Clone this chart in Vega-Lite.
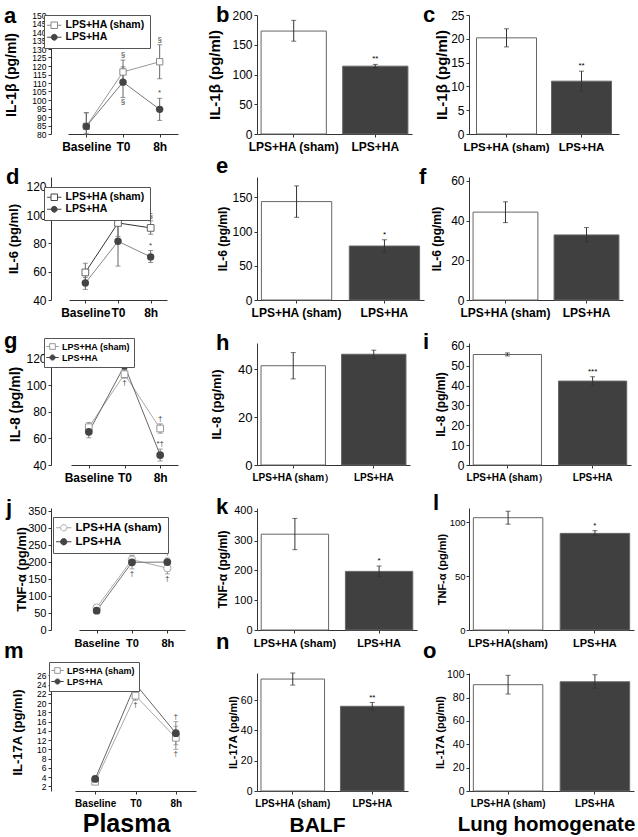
{
"$schema":"https://vega.github.io/schema/vega-lite/v6.json",
"padding":{"left":3,"top":3,"right":0,"bottom":0},
"background":"white",
"bounds":"flush",
"columns":3,
"align":"each",
"spacing":{"row":43,"column":45},
"resolve":{"scale":{"fill":"independent","shape":"independent","stroke":"independent"},"legend":{"fill":"independent","shape":"independent","stroke":"independent"}},
"config":{
 "font":"Liberation Sans",
 "view":{"stroke":null},
 "axis":{"grid":false,"domainColor":"#333333","tickColor":"#333333","tickSize":3,"labelColor":"#000000","titleColor":"#000000","labelFont":"Liberation Sans","titleFont":"Liberation Sans","titleFontWeight":"bold","labelPadding":2,"labelOverlap":false,"labelFlush":false},
 "axisX":{"labelAngle":0,"labelFontWeight":"bold","labelPadding":4},
 "title":{"font":"Liberation Sans","fontWeight":"bold","fontSize":22,"anchor":"start","frame":"group","offset":0,"baseline":"alphabetic","color":"#000000"},
 "text":{"font":"Liberation Sans"}
},
"concat":[
 {"title":{"text":"a","dx":-47,"dy":20.5},"width":150,"height":119,
  "data":{"values":[
   {"t":"Baseline","s":"LPS+HA (sham)","v":84.5,"lo":80,"hi":92.5,"up":"","dn":""},
   {"t":"T0","s":"LPS+HA (sham)","v":116.5,"lo":110,"hi":123.5,"up":"§","dn":""},
   {"t":"8h","s":"LPS+HA (sham)","v":122.5,"lo":112.5,"hi":132.5,"up":"§","dn":""},
   {"t":"Baseline","s":"LPS+HA","v":84.5,"lo":80,"hi":92.5,"up":"","dn":""},
   {"t":"T0","s":"LPS+HA","v":110.5,"lo":101.5,"hi":119.5,"up":"","dn":"§"},
   {"t":"8h","s":"LPS+HA","v":94.5,"lo":88,"hi":101,"up":"*","dn":""}]},
  "encoding":{"x":{"field":"t","type":"ordinal","sort":["Baseline","T0","8h"],"scale":{"type":"point","range":[17,127]},"axis":{"title":null,"labelFontSize":12}}},
  "layer":[
   {"transform":[{"filter":"datum.s == 'LPS+HA (sham)'"}],"mark":{"type":"line","color":"#999999","strokeWidth":1},"encoding":{"y":{"field":"v","type":"quantitative","title":"IL-1β (pg/ml)","scale":{"domain":[80,150],"nice":false,"zero":false},"axis":{"values":[80,85,90,95,100,105,110,115,120,125,130,135,140,145,150],"format":"d","tickCount":50,"labelOverlap":false,"titleX":-33,"titleFontSize":14,"labelFontSize":8.5}}}},
   {"transform":[{"filter":"datum.s == 'LPS+HA'"}],"mark":{"type":"line","color":"#777777","strokeWidth":1},"encoding":{"y":{"field":"v","type":"quantitative","title":"IL-1β (pg/ml)"}}},
   {"mark":{"type":"errorbar","ticks":{"size":5},"color":"#666666"},"encoding":{"y":{"field":"lo","type":"quantitative","title":"IL-1β (pg/ml)"},"y2":{"field":"hi"}}},
   {"transform":[{"filter":"datum.s == 'LPS+HA (sham)'"}],"mark":{"type":"point","shape":"square","filled":true,"fill":"#ffffff","stroke":"#888888","strokeWidth":1,"size":40,"opacity":1},"encoding":{"y":{"field":"v","type":"quantitative","title":"IL-1β (pg/ml)"}}},
   {"transform":[{"filter":"datum.s == 'LPS+HA'"}],"mark":{"type":"point","shape":"circle","filled":true,"color":"#444444","size":55,"opacity":1},"encoding":{"y":{"field":"v","type":"quantitative","title":"IL-1β (pg/ml)"}}},
   {"mark":{"type":"text","baseline":"bottom","dy":-1,"fontSize":8,"color":"#444444"},"encoding":{"y":{"field":"hi","type":"quantitative","title":"IL-1β (pg/ml)"},"text":{"field":"up"}}},
   {"mark":{"type":"text","baseline":"top","dy":1,"fontSize":8,"color":"#444444"},"encoding":{"y":{"field":"lo","type":"quantitative","title":"IL-1β (pg/ml)"},"text":{"field":"dn"}}},
   {"transform":[{"filter":"datum.v < -9999"}],"mark":{"type":"point","filled":true,"opacity":1,"strokeWidth":1},"encoding":{"y":{"field":"v","type":"quantitative","title":"IL-1β (pg/ml)"},
     "shape":{"field":"s","type":"nominal","scale":{"domain":["LPS+HA (sham)","LPS+HA"],"range":["M-2.2,0H-1M1,0H2.2M-1,-1H1V1H-1Z","M-2.2,0H-0.9M0.9,0H2.2M0.9,0A0.9,0.9,0,1,1,-0.9,0A0.9,0.9,0,1,1,0.9,0Z"]},"legend":{"title":null,"orient":"none","legendX":-7,"legendY":0,"fillColor":"#ffffff","strokeColor":"#555555","padding":5,"rowPadding":1,"labelFont":"Liberation Sans","labelFontSize":10.5,"labelFontWeight":"bold","labelColor":"#000000","symbolSize":42,"symbolStrokeWidth":1,"labelOffset":6}},
     "fill":{"field":"s","type":"nominal","scale":{"domain":["LPS+HA (sham)","LPS+HA"],"range":["#ffffff","#444444"]},"legend":{"title":null,"orient":"none","legendX":-7,"legendY":0,"fillColor":"#ffffff","strokeColor":"#555555","padding":5,"rowPadding":1,"labelFont":"Liberation Sans","labelFontSize":10.5,"labelFontWeight":"bold","labelColor":"#000000","symbolSize":42,"symbolStrokeWidth":1,"labelOffset":6}},
     "stroke":{"field":"s","type":"nominal","scale":{"domain":["LPS+HA (sham)","LPS+HA"],"range":["#888888","#444444"]},"legend":{"title":null,"orient":"none","legendX":-7,"legendY":0,"fillColor":"#ffffff","strokeColor":"#555555","padding":5,"rowPadding":1,"labelFont":"Liberation Sans","labelFontSize":10.5,"labelFontWeight":"bold","labelColor":"#000000","symbolSize":42,"symbolStrokeWidth":1,"labelOffset":6}}}}
  ]},
 {"title":{"text":"b","dx":-41,"dy":21.5},"width":155,"height":119,
  "data":{"values":[{"g":"LPS+HA (sham)","v":173,"lo":156,"hi":191,"sig":""},{"g":"LPS+HA","v":114,"lo":111,"hi":117,"sig":"**"}]},
  "encoding":{"x":{"field":"g","type":"nominal","sort":null,"scale":{"paddingInner":0.2,"paddingOuter":0.05},"axis":{"title":null,"labelFontSize":12}}},
  "layer":[
   {"mark":{"type":"bar","stroke":"#666666","strokeWidth":1},"encoding":{"y":{"field":"v","type":"quantitative","title":"IL-1β (pg/ml)","scale":{"domain":[0,200],"nice":false},"axis":{"values":[0,50,100,150,200],"format":"d","tickCount":50,"labelOverlap":false,"titleX":-35,"titleFontSize":15,"labelFontSize":12}},"fill":{"field":"g","type":"nominal","sort":null,"scale":{"domain":["LPS+HA (sham)","LPS+HA"],"range":["#ffffff","#404040"]},"legend":null}}},
   {"mark":{"type":"errorbar","ticks":{"size":5},"color":"#333333"},"encoding":{"y":{"field":"lo","type":"quantitative","title":"IL-1β (pg/ml)"},"y2":{"field":"hi"}}},
   {"mark":{"type":"text","baseline":"bottom","dy":-1,"fontSize":8},"encoding":{"y":{"field":"hi","type":"quantitative","title":"IL-1β (pg/ml)"},"text":{"field":"sig"}}}
  ]},
 {"title":{"text":"c","dx":-46,"dy":21.5},"width":150,"height":119,
  "data":{"values":[{"g":"LPS+HA (sham)","v":20.2,"lo":18.3,"hi":22.1,"sig":""},{"g":"LPS+HA","v":11.1,"lo":9.0,"hi":13.2,"sig":"**"}]},
  "encoding":{"x":{"field":"g","type":"nominal","sort":null,"scale":{"paddingInner":0.2,"paddingOuter":0.1},"axis":{"title":null,"labelFontSize":11.5}}},
  "layer":[
   {"mark":{"type":"bar","stroke":"#666666","strokeWidth":1},"encoding":{"y":{"field":"v","type":"quantitative","title":"IL-1β (pg/ml)","scale":{"domain":[0,25],"nice":false},"axis":{"values":[0,5,10,15,20,25],"format":"d","tickCount":50,"labelOverlap":false,"titleX":-20,"titleFontSize":15,"labelFontSize":12}},"fill":{"field":"g","type":"nominal","sort":null,"scale":{"domain":["LPS+HA (sham)","LPS+HA"],"range":["#ffffff","#404040"]},"legend":null}}},
   {"mark":{"type":"errorbar","ticks":{"size":5},"color":"#333333"},"encoding":{"y":{"field":"lo","type":"quantitative","title":"IL-1β (pg/ml)"},"y2":{"field":"hi"}}},
   {"mark":{"type":"text","baseline":"bottom","dy":-1,"fontSize":8},"encoding":{"y":{"field":"hi","type":"quantitative","title":"IL-1β (pg/ml)"},"text":{"field":"sig"}}}
  ]},
 {"title":{"text":"d","dx":-45,"dy":16},"width":160,"height":123,
  "data":{"values":[
   {"t":"Baseline","s":"LPS+HA (sham)","v":59.5,"lo":53,"hi":66,"up":"","dn":""},
   {"t":"T0","s":"LPS+HA (sham)","v":94.5,"lo":85,"hi":104,"up":"","dn":""},
   {"t":"8h","s":"LPS+HA (sham)","v":91,"lo":86.5,"hi":96,"up":"§","dn":""},
   {"t":"Baseline","s":"LPS+HA","v":52,"lo":47.5,"hi":56,"up":"","dn":""},
   {"t":"T0","s":"LPS+HA","v":81.5,"lo":64,"hi":99,"up":"","dn":""},
   {"t":"8h","s":"LPS+HA","v":70.5,"lo":66.5,"hi":75,"up":"*","dn":""}]},
  "encoding":{"x":{"field":"t","type":"ordinal","sort":["Baseline","T0","8h"],"scale":{"type":"point","range":[18,116]},"axis":{"title":null,"labelFontSize":12}}},
  "layer":[
   {"transform":[{"filter":"datum.s == 'LPS+HA (sham)'"}],"mark":{"type":"line","color":"#333333","strokeWidth":1},"encoding":{"y":{"field":"v","type":"quantitative","title":"IL-6 (pg/ml)","scale":{"domain":[40,127],"nice":false,"zero":false},"axis":{"values":[40,60,80,100,120],"format":"d","tickCount":50,"labelOverlap":false,"titleX":-31,"titleFontSize":13,"labelFontSize":12}}}},
   {"transform":[{"filter":"datum.s == 'LPS+HA'"}],"mark":{"type":"line","color":"#888888","strokeWidth":1},"encoding":{"y":{"field":"v","type":"quantitative","title":"IL-6 (pg/ml)"}}},
   {"mark":{"type":"errorbar","ticks":{"size":5},"color":"#666666"},"encoding":{"y":{"field":"lo","type":"quantitative","title":"IL-6 (pg/ml)"},"y2":{"field":"hi"}}},
   {"transform":[{"filter":"datum.s == 'LPS+HA (sham)'"}],"mark":{"type":"point","shape":"square","filled":true,"fill":"#ffffff","stroke":"#666666","strokeWidth":1,"size":45,"opacity":1},"encoding":{"y":{"field":"v","type":"quantitative","title":"IL-6 (pg/ml)"}}},
   {"transform":[{"filter":"datum.s == 'LPS+HA'"}],"mark":{"type":"point","shape":"circle","filled":true,"color":"#444444","size":55,"opacity":1},"encoding":{"y":{"field":"v","type":"quantitative","title":"IL-6 (pg/ml)"}}},
   {"mark":{"type":"text","baseline":"bottom","dy":-1,"fontSize":8,"color":"#444444"},"encoding":{"y":{"field":"hi","type":"quantitative","title":"IL-6 (pg/ml)"},"text":{"field":"up"}}},
   {"mark":{"type":"text","baseline":"top","dy":1,"fontSize":8,"color":"#444444"},"encoding":{"y":{"field":"lo","type":"quantitative","title":"IL-6 (pg/ml)"},"text":{"field":"dn"}}},
   {"transform":[{"filter":"datum.v < -9999"}],"mark":{"type":"point","filled":true,"opacity":1,"strokeWidth":1},"encoding":{"y":{"field":"v","type":"quantitative","title":"IL-6 (pg/ml)"},
     "shape":{"field":"s","type":"nominal","scale":{"domain":["LPS+HA (sham)","LPS+HA"],"range":["M-2.2,0H-1M1,0H2.2M-1,-1H1V1H-1Z","M-2.2,0H-0.9M0.9,0H2.2M0.9,0A0.9,0.9,0,1,1,-0.9,0A0.9,0.9,0,1,1,0.9,0Z"]},"legend":{"title":null,"orient":"none","legendX":-7,"legendY":10,"fillColor":"#ffffff","strokeColor":"#555555","padding":5,"rowPadding":1,"labelFont":"Liberation Sans","labelFontSize":10.5,"labelFontWeight":"bold","labelColor":"#000000","symbolSize":42,"symbolStrokeWidth":1,"labelOffset":6}},
     "fill":{"field":"s","type":"nominal","scale":{"domain":["LPS+HA (sham)","LPS+HA"],"range":["#ffffff","#444444"]},"legend":{"title":null,"orient":"none","legendX":-7,"legendY":10,"fillColor":"#ffffff","strokeColor":"#555555","padding":5,"rowPadding":1,"labelFont":"Liberation Sans","labelFontSize":10.5,"labelFontWeight":"bold","labelColor":"#000000","symbolSize":42,"symbolStrokeWidth":1,"labelOffset":6}},
     "stroke":{"field":"s","type":"nominal","scale":{"domain":["LPS+HA (sham)","LPS+HA"],"range":["#444444","#444444"]},"legend":{"title":null,"orient":"none","legendX":-7,"legendY":10,"fillColor":"#ffffff","strokeColor":"#555555","padding":5,"rowPadding":1,"labelFont":"Liberation Sans","labelFontSize":10.5,"labelFontWeight":"bold","labelColor":"#000000","symbolSize":42,"symbolStrokeWidth":1,"labelOffset":6}}}}
  ]},
 {"title":{"text":"e","dx":-41,"dy":5},"width":167,"height":123,
  "data":{"values":[{"g":"LPS+HA (sham)","v":144,"lo":121,"hi":167,"sig":""},{"g":"LPS+HA","v":79,"lo":70,"hi":88,"sig":"*"}]},
  "encoding":{"x":{"field":"g","type":"nominal","sort":null,"scale":{"paddingInner":0.2,"paddingOuter":0.05},"axis":{"title":null,"labelFontSize":12}}},
  "layer":[
   {"mark":{"type":"bar","stroke":"#666666","strokeWidth":1},"encoding":{"y":{"field":"v","type":"quantitative","title":"IL-6 (pg/ml)","scale":{"domain":[0,180],"nice":false},"axis":{"values":[0,50,100,150],"format":"d","tickCount":50,"labelOverlap":false,"titleX":-28,"titleFontSize":12,"labelFontSize":12}},"fill":{"field":"g","type":"nominal","sort":null,"scale":{"domain":["LPS+HA (sham)","LPS+HA"],"range":["#ffffff","#404040"]},"legend":null}}},
   {"mark":{"type":"errorbar","ticks":{"size":5},"color":"#333333"},"encoding":{"y":{"field":"lo","type":"quantitative","title":"IL-6 (pg/ml)"},"y2":{"field":"hi"}}},
   {"mark":{"type":"text","baseline":"bottom","dy":-1,"fontSize":8},"encoding":{"y":{"field":"hi","type":"quantitative","title":"IL-6 (pg/ml)"},"text":{"field":"sig"}}}
  ]},
 {"title":{"text":"f","dx":-50,"dy":18.5},"width":154,"height":123,
  "data":{"values":[{"g":"LPS+HA (sham)","v":44.3,"lo":39,"hi":49.5,"sig":""},{"g":"LPS+HA","v":32.8,"lo":29.3,"hi":36.5,"sig":""}]},
  "encoding":{"x":{"field":"g","type":"nominal","sort":null,"scale":{"paddingInner":0.2,"paddingOuter":0.05},"axis":{"title":null,"labelFontSize":12}}},
  "layer":[
   {"mark":{"type":"bar","stroke":"#666666","strokeWidth":1},"encoding":{"y":{"field":"v","type":"quantitative","title":"IL-6 (pg/ml)","scale":{"domain":[0,62],"nice":false},"axis":{"values":[0,20,40,60],"format":"d","tickCount":50,"labelOverlap":false,"titleX":-26,"titleFontSize":12,"labelFontSize":12}},"fill":{"field":"g","type":"nominal","sort":null,"scale":{"domain":["LPS+HA (sham)","LPS+HA"],"range":["#ffffff","#404040"]},"legend":null}}},
   {"mark":{"type":"errorbar","ticks":{"size":5},"color":"#333333"},"encoding":{"y":{"field":"lo","type":"quantitative","title":"IL-6 (pg/ml)"},"y2":{"field":"hi"}}}
  ]},
 {"title":{"text":"g","dx":-47,"dy":19},"width":160,"height":122,
  "data":{"values":[
   {"t":"Baseline","s":"LPS+HA (sham)","v":68.5,"lo":65,"hi":72,"up":"","dn":""},
   {"t":"T0","s":"LPS+HA (sham)","v":108.5,"lo":105.5,"hi":111.5,"up":"","dn":"†"},
   {"t":"8h","s":"LPS+HA (sham)","v":67.5,"lo":64,"hi":71,"up":"†","dn":""},
   {"t":"Baseline","s":"LPS+HA","v":65,"lo":60.5,"hi":69.5,"up":"","dn":""},
   {"t":"T0","s":"LPS+HA","v":115,"lo":112,"hi":118,"up":"†","dn":""},
   {"t":"8h","s":"LPS+HA","v":47.5,"lo":43,"hi":52,"up":"*†","dn":""}]},
  "encoding":{"x":{"field":"t","type":"ordinal","sort":["Baseline","T0","8h"],"scale":{"type":"point","range":[20,127]},"axis":{"title":null,"labelFontSize":12}}},
  "layer":[
   {"transform":[{"filter":"datum.s == 'LPS+HA (sham)'"}],"mark":{"type":"line","color":"#aaaaaa","strokeWidth":1},"encoding":{"y":{"field":"v","type":"quantitative","title":"IL-8 (pg/ml)","scale":{"domain":[40,132],"nice":false,"zero":false},"axis":{"values":[40,60,80,100,120],"format":"d","tickCount":50,"labelOverlap":false,"titleX":-29,"titleFontSize":14,"labelFontSize":12}}}},
   {"transform":[{"filter":"datum.s == 'LPS+HA'"}],"mark":{"type":"line","color":"#666666","strokeWidth":1},"encoding":{"y":{"field":"v","type":"quantitative","title":"IL-8 (pg/ml)"}}},
   {"mark":{"type":"errorbar","ticks":{"size":5},"color":"#777777"},"encoding":{"y":{"field":"lo","type":"quantitative","title":"IL-8 (pg/ml)"},"y2":{"field":"hi"}}},
   {"transform":[{"filter":"datum.s == 'LPS+HA (sham)'"}],"mark":{"type":"point","shape":"square","filled":true,"fill":"#ffffff","stroke":"#999999","strokeWidth":1,"size":45,"opacity":1},"encoding":{"y":{"field":"v","type":"quantitative","title":"IL-8 (pg/ml)"}}},
   {"transform":[{"filter":"datum.s == 'LPS+HA'"}],"mark":{"type":"point","shape":"circle","filled":true,"color":"#444444","size":60,"opacity":1},"encoding":{"y":{"field":"v","type":"quantitative","title":"IL-8 (pg/ml)"}}},
   {"mark":{"type":"text","baseline":"bottom","dy":-1,"fontSize":8,"color":"#444444"},"encoding":{"y":{"field":"hi","type":"quantitative","title":"IL-8 (pg/ml)"},"text":{"field":"up"}}},
   {"mark":{"type":"text","baseline":"top","dy":1,"fontSize":8,"color":"#444444"},"encoding":{"y":{"field":"lo","type":"quantitative","title":"IL-8 (pg/ml)"},"text":{"field":"dn"}}},
   {"transform":[{"filter":"datum.v < -9999"}],"mark":{"type":"point","filled":true,"opacity":1,"strokeWidth":1},"encoding":{"y":{"field":"v","type":"quantitative","title":"IL-8 (pg/ml)"},
     "shape":{"field":"s","type":"nominal","scale":{"domain":["LPS+HA (sham)","LPS+HA"],"range":["M-2.2,0H-1M1,0H2.2M-1,-1H1V1H-1Z","M-2.2,0H-0.9M0.9,0H2.2M0.9,0A0.9,0.9,0,1,1,-0.9,0A0.9,0.9,0,1,1,0.9,0Z"]},"legend":{"title":null,"orient":"none","legendX":-7,"legendY":-5,"fillColor":"#ffffff","strokeColor":"#555555","padding":4,"rowPadding":0,"labelFont":"Liberation Sans","labelFontSize":9,"labelFontWeight":"bold","labelColor":"#000000","symbolSize":32,"symbolStrokeWidth":1,"labelOffset":5}},
     "fill":{"field":"s","type":"nominal","scale":{"domain":["LPS+HA (sham)","LPS+HA"],"range":["#ffffff","#444444"]},"legend":{"title":null,"orient":"none","legendX":-7,"legendY":-5,"fillColor":"#ffffff","strokeColor":"#555555","padding":4,"rowPadding":0,"labelFont":"Liberation Sans","labelFontSize":9,"labelFontWeight":"bold","labelColor":"#000000","symbolSize":32,"symbolStrokeWidth":1,"labelOffset":5}},
     "stroke":{"field":"s","type":"nominal","scale":{"domain":["LPS+HA (sham)","LPS+HA"],"range":["#999999","#444444"]},"legend":{"title":null,"orient":"none","legendX":-7,"legendY":-5,"fillColor":"#ffffff","strokeColor":"#555555","padding":4,"rowPadding":0,"labelFont":"Liberation Sans","labelFontSize":9,"labelFontWeight":"bold","labelColor":"#000000","symbolSize":32,"symbolStrokeWidth":1,"labelOffset":5}}}}
  ]},
 {"title":{"text":"h","dx":-41,"dy":15.5},"width":153,"height":122,
  "data":{"values":[{"g":"LPS+HA (sham）","v":41.5,"lo":36,"hi":47,"sig":""},{"g":"LPS+HA","v":46.3,"lo":44.5,"hi":48,"sig":""}]},
  "encoding":{"x":{"field":"g","type":"nominal","sort":null,"scale":{"paddingInner":0.2,"paddingOuter":0.05},"axis":{"title":null,"labelFontSize":10}}},
  "layer":[
   {"mark":{"type":"bar","stroke":"#666666","strokeWidth":1},"encoding":{"y":{"field":"v","type":"quantitative","title":"IL-8 (pg/ml)","scale":{"domain":[0,51],"nice":false},"axis":{"values":[0,20,40],"format":"d","tickCount":50,"labelOverlap":false,"titleX":-34,"titleFontSize":13,"labelFontSize":13}},"fill":{"field":"g","type":"nominal","sort":null,"scale":{"domain":["LPS+HA (sham）","LPS+HA"],"range":["#ffffff","#404040"]},"legend":null}}},
   {"mark":{"type":"errorbar","ticks":{"size":5},"color":"#333333"},"encoding":{"y":{"field":"lo","type":"quantitative","title":"IL-8 (pg/ml)"},"y2":{"field":"hi"}}}
  ]},
 {"title":{"text":"i","dx":-46,"dy":18.5},"width":162,"height":122,
  "data":{"values":[{"g":"LPS+HA (sham）","v":55.7,"lo":55,"hi":56.5,"sig":""},{"g":"LPS+HA","v":42.3,"lo":40,"hi":44.5,"sig":"***"}]},
  "encoding":{"x":{"field":"g","type":"nominal","sort":null,"scale":{"paddingInner":0.2,"paddingOuter":0.05},"axis":{"title":null,"labelFontSize":10}}},
  "layer":[
   {"mark":{"type":"bar","stroke":"#666666","strokeWidth":1},"encoding":{"y":{"field":"v","type":"quantitative","title":"IL-8 (pg/ml)","scale":{"domain":[0,61.5],"nice":false},"axis":{"values":[0,10,20,30,40,50,60],"format":"d","tickCount":50,"labelOverlap":false,"titleX":-22,"titleFontSize":12,"labelFontSize":12}},"fill":{"field":"g","type":"nominal","sort":null,"scale":{"domain":["LPS+HA (sham）","LPS+HA"],"range":["#ffffff","#404040"]},"legend":null}}},
   {"mark":{"type":"errorbar","ticks":{"size":5},"color":"#333333"},"encoding":{"y":{"field":"lo","type":"quantitative","title":"IL-8 (pg/ml)"},"y2":{"field":"hi"}}},
   {"mark":{"type":"text","baseline":"bottom","dy":-1,"fontSize":8},"encoding":{"y":{"field":"hi","type":"quantitative","title":"IL-8 (pg/ml)"},"text":{"field":"sig"}}}
  ]},
 {"title":{"text":"j","dx":-45,"dy":19},"width":160,"height":122,
  "data":{"values":[
   {"t":"Baseline","s":"LPS+HA (sham)","v":66,"lo":60,"hi":72,"up":"","dn":""},
   {"t":"T0","s":"LPS+HA (sham)","v":207,"lo":195,"hi":220,"up":"†","dn":""},
   {"t":"8h","s":"LPS+HA (sham)","v":182,"lo":165,"hi":199,"up":"","dn":"†"},
   {"t":"Baseline","s":"LPS+HA","v":57,"lo":50,"hi":64,"up":"","dn":""},
   {"t":"T0","s":"LPS+HA","v":199,"lo":180,"hi":218,"up":"","dn":"†"},
   {"t":"8h","s":"LPS+HA","v":200,"lo":190,"hi":212,"up":"†","dn":""}]},
  "encoding":{"x":{"field":"t","type":"ordinal","sort":["Baseline","T0","8h"],"scale":{"type":"point","range":[28,134]},"axis":{"title":null,"labelFontSize":11}}},
  "layer":[
   {"transform":[{"filter":"datum.s == 'LPS+HA (sham)'"}],"mark":{"type":"line","color":"#aaaaaa","strokeWidth":1},"encoding":{"y":{"field":"v","type":"quantitative","title":"TNF-α (pg/ml)","scale":{"domain":[0,359],"nice":false,"zero":false},"axis":{"values":[0,50,100,150,200,250,300,350],"format":"d","tickCount":50,"labelOverlap":false,"titleX":-23,"titleFontSize":13,"labelFontSize":11}}}},
   {"transform":[{"filter":"datum.s == 'LPS+HA'"}],"mark":{"type":"line","color":"#777777","strokeWidth":1},"encoding":{"y":{"field":"v","type":"quantitative","title":"TNF-α (pg/ml)"}}},
   {"mark":{"type":"errorbar","ticks":{"size":5},"color":"#888888"},"encoding":{"y":{"field":"lo","type":"quantitative","title":"TNF-α (pg/ml)"},"y2":{"field":"hi"}}},
   {"transform":[{"filter":"datum.s == 'LPS+HA (sham)'"}],"mark":{"type":"point","shape":"circle","filled":true,"fill":"#ffffff","stroke":"#aaaaaa","strokeWidth":1,"size":55,"opacity":1},"encoding":{"y":{"field":"v","type":"quantitative","title":"TNF-α (pg/ml)"}}},
   {"transform":[{"filter":"datum.s == 'LPS+HA'"}],"mark":{"type":"point","shape":"circle","filled":true,"color":"#444444","size":60,"opacity":1},"encoding":{"y":{"field":"v","type":"quantitative","title":"TNF-α (pg/ml)"}}},
   {"mark":{"type":"text","baseline":"bottom","dy":-1,"fontSize":8,"color":"#444444"},"encoding":{"y":{"field":"hi","type":"quantitative","title":"TNF-α (pg/ml)"},"text":{"field":"up"}}},
   {"mark":{"type":"text","baseline":"top","dy":1,"fontSize":8,"color":"#444444"},"encoding":{"y":{"field":"lo","type":"quantitative","title":"TNF-α (pg/ml)"},"text":{"field":"dn"}}},
   {"transform":[{"filter":"datum.v < -9999"}],"mark":{"type":"point","filled":true,"opacity":1,"strokeWidth":1},"encoding":{"y":{"field":"v","type":"quantitative","title":"TNF-α (pg/ml)"},
     "shape":{"field":"s","type":"nominal","scale":{"domain":["LPS+HA (sham)","LPS+HA"],"range":["M-2.2,0H-0.9M0.9,0H2.2M0.9,0A0.9,0.9,0,1,1,-0.9,0A0.9,0.9,0,1,1,0.9,0Z","M-2.2,0H-0.9M0.9,0H2.2M0.9,0A0.9,0.9,0,1,1,-0.9,0A0.9,0.9,0,1,1,0.9,0Z"]},"legend":{"title":null,"orient":"none","legendX":2,"legendY":9,"fillColor":"#ffffff","strokeColor":"#555555","padding":5,"rowPadding":1,"labelFont":"Liberation Sans","labelFontSize":11.5,"labelFontWeight":"bold","labelColor":"#000000","symbolSize":49,"symbolStrokeWidth":1,"labelOffset":6}},
     "fill":{"field":"s","type":"nominal","scale":{"domain":["LPS+HA (sham)","LPS+HA"],"range":["#ffffff","#444444"]},"legend":{"title":null,"orient":"none","legendX":2,"legendY":9,"fillColor":"#ffffff","strokeColor":"#555555","padding":5,"rowPadding":1,"labelFont":"Liberation Sans","labelFontSize":11.5,"labelFontWeight":"bold","labelColor":"#000000","symbolSize":49,"symbolStrokeWidth":1,"labelOffset":6}},
     "stroke":{"field":"s","type":"nominal","scale":{"domain":["LPS+HA (sham)","LPS+HA"],"range":["#aaaaaa","#444444"]},"legend":{"title":null,"orient":"none","legendX":2,"legendY":9,"fillColor":"#ffffff","strokeColor":"#555555","padding":5,"rowPadding":1,"labelFont":"Liberation Sans","labelFontSize":11.5,"labelFontWeight":"bold","labelColor":"#000000","symbolSize":49,"symbolStrokeWidth":1,"labelOffset":6}}}}
  ]},
 {"title":{"text":"k","dx":-41,"dy":18},"width":160,"height":122,
  "data":{"values":[{"g":"LPS+HA (sham)","v":322,"lo":270,"hi":375,"sig":""},{"g":"LPS+HA","v":197,"lo":180,"hi":215,"sig":"*"}]},
  "encoding":{"x":{"field":"g","type":"nominal","sort":null,"scale":{"paddingInner":0.2,"paddingOuter":0.05},"axis":{"title":null,"labelFontSize":11}}},
  "layer":[
   {"mark":{"type":"bar","stroke":"#666666","strokeWidth":1},"encoding":{"y":{"field":"v","type":"quantitative","title":"TNF-α (pg/ml)","scale":{"domain":[0,410],"nice":false},"axis":{"values":[0,100,200,300,400],"format":"d","tickCount":50,"labelOverlap":false,"titleX":-28,"titleFontSize":12,"labelFontSize":11}},"fill":{"field":"g","type":"nominal","sort":null,"scale":{"domain":["LPS+HA (sham)","LPS+HA"],"range":["#ffffff","#404040"]},"legend":null}}},
   {"mark":{"type":"errorbar","ticks":{"size":5},"color":"#333333"},"encoding":{"y":{"field":"lo","type":"quantitative","title":"TNF-α (pg/ml)"},"y2":{"field":"hi"}}},
   {"mark":{"type":"text","baseline":"bottom","dy":-1,"fontSize":8},"encoding":{"y":{"field":"hi","type":"quantitative","title":"TNF-α (pg/ml)"},"text":{"field":"sig"}}}
  ]},
 {"title":{"text":"l","dx":-36,"dy":17},"width":165,"height":122,
  "data":{"values":[{"g":"LPS+HA(sham)","v":104,"lo":98,"hi":110,"sig":""},{"g":"LPS+HA","v":89.5,"lo":87.5,"hi":92,"sig":"*"}]},
  "encoding":{"x":{"field":"g","type":"nominal","sort":null,"scale":{"paddingInner":0.2,"paddingOuter":0.05},"axis":{"title":null,"labelFontSize":11}}},
  "layer":[
   {"mark":{"type":"bar","stroke":"#666666","strokeWidth":1},"encoding":{"y":{"field":"v","type":"quantitative","title":"TNF-α (pg/ml)","scale":{"domain":[0,113],"nice":false},"axis":{"values":[0,50,100],"format":"d","tickCount":50,"labelOverlap":false,"titleX":-22,"titleFontSize":11,"labelFontSize":9.5,"labelPadding":1}},"fill":{"field":"g","type":"nominal","sort":null,"scale":{"domain":["LPS+HA(sham)","LPS+HA"],"range":["#ffffff","#404040"]},"legend":null}}},
   {"mark":{"type":"errorbar","ticks":{"size":5},"color":"#333333"},"encoding":{"y":{"field":"lo","type":"quantitative","title":"TNF-α (pg/ml)"},"y2":{"field":"hi"}}},
   {"mark":{"type":"text","baseline":"bottom","dy":-1,"fontSize":8},"encoding":{"y":{"field":"hi","type":"quantitative","title":"TNF-α (pg/ml)"},"text":{"field":"sig"}}}
  ]},
 {"title":{"text":"m","dx":-47,"dy":5},"width":161,"height":118,
  "data":{"values":[
   {"t":"Baseline","s":"LPS+HA (sham)","v":3,"lo":2.6,"hi":3.4,"up":"","dn":""},
   {"t":"T0","s":"LPS+HA (sham)","v":21.6,"lo":20.6,"hi":22.6,"up":"","dn":"†"},
   {"t":"8h","s":"LPS+HA (sham)","v":12.5,"lo":10,"hi":15,"up":"","dn":"†"},
   {"t":"Baseline","s":"LPS+HA","v":3.6,"lo":3.2,"hi":4,"up":"","dn":""},
   {"t":"T0","s":"LPS+HA","v":24.1,"lo":23,"hi":25.2,"up":"†","dn":""},
   {"t":"8h","s":"LPS+HA","v":13.5,"lo":11,"hi":16,"up":"†","dn":""}]},
  "encoding":{"x":{"field":"t","type":"ordinal","sort":["Baseline","T0","8h"],"scale":{"type":"point","range":[24,145]},"axis":{"title":"Plasma","titleFontSize":25,"titleX":75,"titleY":40,"titleBaseline":"alphabetic","labelFontSize":10}}},
  "layer":[
   {"transform":[{"filter":"datum.s == 'LPS+HA (sham)'"}],"mark":{"type":"line","color":"#aaaaaa","strokeWidth":1},"encoding":{"y":{"field":"v","type":"quantitative","title":"IL-17A (pg/ml)","scale":{"domain":[1,26.5],"nice":false,"zero":false},"axis":{"values":[2,4,6,8,10,12,14,16,18,20,22,24,26],"format":"d","tickCount":50,"labelOverlap":false,"titleX":-27,"titleFontSize":13,"labelFontSize":8.5}}}},
   {"transform":[{"filter":"datum.s == 'LPS+HA'"}],"mark":{"type":"line","color":"#666666","strokeWidth":1},"encoding":{"y":{"field":"v","type":"quantitative","title":"IL-17A (pg/ml)"}}},
   {"mark":{"type":"errorbar","ticks":{"size":5},"color":"#888888"},"encoding":{"y":{"field":"lo","type":"quantitative","title":"IL-17A (pg/ml)"},"y2":{"field":"hi"}}},
   {"transform":[{"filter":"datum.s == 'LPS+HA (sham)'"}],"mark":{"type":"point","shape":"square","filled":true,"fill":"#ffffff","stroke":"#999999","strokeWidth":1,"size":45,"opacity":1},"encoding":{"y":{"field":"v","type":"quantitative","title":"IL-17A (pg/ml)"}}},
   {"transform":[{"filter":"datum.s == 'LPS+HA'"}],"mark":{"type":"point","shape":"circle","filled":true,"color":"#444444","size":60,"opacity":1},"encoding":{"y":{"field":"v","type":"quantitative","title":"IL-17A (pg/ml)"}}},
   {"mark":{"type":"text","baseline":"bottom","dy":-1,"fontSize":8,"color":"#444444"},"encoding":{"y":{"field":"hi","type":"quantitative","title":"IL-17A (pg/ml)"},"text":{"field":"up"}}},
   {"mark":{"type":"text","baseline":"top","dy":1,"fontSize":8,"color":"#444444"},"encoding":{"y":{"field":"lo","type":"quantitative","title":"IL-17A (pg/ml)"},"text":{"field":"dn"}}},
   {"transform":[{"filter":"datum.v < -9999"}],"mark":{"type":"point","filled":true,"opacity":1,"strokeWidth":1},"encoding":{"y":{"field":"v","type":"quantitative","title":"IL-17A (pg/ml)"},
     "shape":{"field":"s","type":"nominal","scale":{"domain":["LPS+HA (sham)","LPS+HA"],"range":["M-2.2,0H-1M1,0H2.2M-1,-1H1V1H-1Z","M-2.2,0H-0.9M0.9,0H2.2M0.9,0A0.9,0.9,0,1,1,-0.9,0A0.9,0.9,0,1,1,0.9,0Z"]},"legend":{"title":null,"orient":"none","legendX":-2,"legendY":-11,"fillColor":"#ffffff","strokeColor":"#555555","padding":4,"rowPadding":0,"labelFont":"Liberation Sans","labelFontSize":9,"labelFontWeight":"bold","labelColor":"#000000","symbolSize":32,"symbolStrokeWidth":1,"labelOffset":5}},
     "fill":{"field":"s","type":"nominal","scale":{"domain":["LPS+HA (sham)","LPS+HA"],"range":["#ffffff","#444444"]},"legend":{"title":null,"orient":"none","legendX":-2,"legendY":-11,"fillColor":"#ffffff","strokeColor":"#555555","padding":4,"rowPadding":0,"labelFont":"Liberation Sans","labelFontSize":9,"labelFontWeight":"bold","labelColor":"#000000","symbolSize":32,"symbolStrokeWidth":1,"labelOffset":5}},
     "stroke":{"field":"s","type":"nominal","scale":{"domain":["LPS+HA (sham)","LPS+HA"],"range":["#999999","#444444"]},"legend":{"title":null,"orient":"none","legendX":-2,"legendY":-11,"fillColor":"#ffffff","strokeColor":"#555555","padding":4,"rowPadding":0,"labelFont":"Liberation Sans","labelFontSize":9,"labelFontWeight":"bold","labelColor":"#000000","symbolSize":32,"symbolStrokeWidth":1,"labelOffset":5}}}}
  ]},
 {"title":{"text":"n","dx":-41,"dy":-6.5},"width":151,"height":118,
  "data":{"values":[{"g":"LPS+HA (sham)","v":74,"lo":70,"hi":78,"sig":""},{"g":"LPS+HA","v":56,"lo":53.5,"hi":58.5,"sig":"**"}]},
  "encoding":{"x":{"field":"g","type":"nominal","sort":null,"scale":{"paddingInner":0.2,"paddingOuter":0.05},"axis":{"title":"BALF","titleFontSize":21,"titleX":60,"titleY":40,"titleBaseline":"alphabetic","labelFontSize":10}}},
  "layer":[
   {"mark":{"type":"bar","stroke":"#666666","strokeWidth":1},"encoding":{"y":{"field":"v","type":"quantitative","title":"IL-17A (pg/ml)","scale":{"domain":[0,78],"nice":false},"axis":{"values":[0,20,40,60],"format":"d","tickCount":50,"labelOverlap":false,"titleX":-19,"titleFontSize":11,"labelFontSize":10.5}},"fill":{"field":"g","type":"nominal","sort":null,"scale":{"domain":["LPS+HA (sham)","LPS+HA"],"range":["#ffffff","#404040"]},"legend":null}}},
   {"mark":{"type":"errorbar","ticks":{"size":5},"color":"#333333"},"encoding":{"y":{"field":"lo","type":"quantitative","title":"IL-17A (pg/ml)"},"y2":{"field":"hi"}}},
   {"mark":{"type":"text","baseline":"bottom","dy":-1,"fontSize":8},"encoding":{"y":{"field":"hi","type":"quantitative","title":"IL-17A (pg/ml)"},"text":{"field":"sig"}}}
  ]},
 {"title":{"text":"o","dx":-46,"dy":-1.7},"width":165,"height":118,
  "data":{"values":[{"g":"LPS+HA (sham)","v":91,"lo":83,"hi":99,"sig":""},{"g":"LPS+HA","v":93.5,"lo":88,"hi":99.5,"sig":""}]},
  "encoding":{"x":{"field":"g","type":"nominal","sort":null,"scale":{"paddingInner":0.2,"paddingOuter":0.05},"axis":{"title":"Lung homogenate","titleFontSize":20.5,"titleX":77,"titleY":39,"titleBaseline":"alphabetic","labelFontSize":10}}},
  "layer":[
   {"mark":{"type":"bar","stroke":"#666666","strokeWidth":1},"encoding":{"y":{"field":"v","type":"quantitative","title":"IL-17A (pg/ml)","scale":{"domain":[0,101],"nice":false},"axis":{"values":[0,20,40,60,80,100],"format":"d","tickCount":50,"labelOverlap":false,"titleX":-24,"titleFontSize":11,"labelFontSize":10.5}},"fill":{"field":"g","type":"nominal","sort":null,"scale":{"domain":["LPS+HA (sham)","LPS+HA"],"range":["#ffffff","#404040"]},"legend":null}}},
   {"mark":{"type":"errorbar","ticks":{"size":5},"color":"#333333"},"encoding":{"y":{"field":"lo","type":"quantitative","title":"IL-17A (pg/ml)"},"y2":{"field":"hi"}}}
  ]}
]
}
